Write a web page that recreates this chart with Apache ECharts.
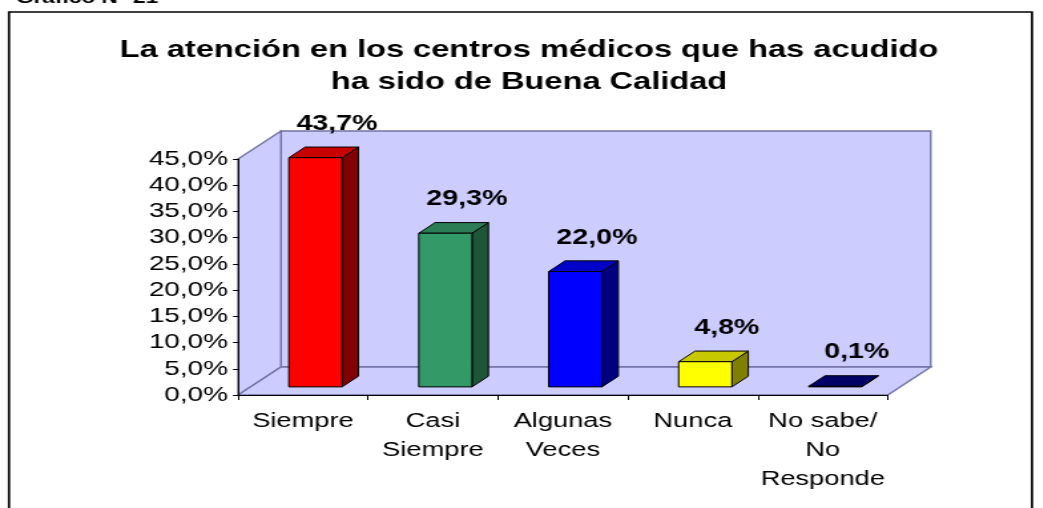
<!DOCTYPE html>
<html>
<head>
<meta charset="utf-8">
<script src="https://cdn.jsdelivr.net/npm/echarts@6/dist/echarts.min.js"></script>
<style>
  html, body { margin: 0; padding: 0; background: #fff; overflow: hidden; }
  #chart { height: 508px; transform-origin: 0 0; }
</style>
</head>
<body>
<div id="chart"></div>
<script>
// chart data
const categories = ["Siempre", "Casi\nSiempre", "Algunas\nVeces", "Nunca", "No sabe/\nNo\nResponde"];
const values = [43.7, 29.3, 22.0, 4.8, 0.1];
const yMin = 0;
const yMax = 45;
const yStep = 5;

// the original picture is stretched sideways, so draw narrow and stretch
const S = 1.33;
const FONT = '"Liberation Sans", Arial, sans-serif';

const frontColors = ["#ff0000", "#339966", "#0000ff", "#ffff00", "#000080"];
const topColors = ["#c80000", "#2a7d54", "#0000c8", "#c8c800", "#000066"];
const sideColors = ["#800000", "#1d5639", "#000080", "#808000", "#000040"];

// depth of the fake 3d box
const DX = 43 / S;
const DY = -28;
const F1 = 0.29;
const F2 = 0.67;
const BAR_W = 0.41;

function fmt(v) {
  return v.toFixed(1).replace(".", ",") + "%";
}

var chartDom = document.getElementById("chart");
chartDom.style.width = 1043 / S + "px";
chartDom.style.transform = "scaleX(" + S + ")";
var myChart = echarts.init(chartDom, null, { renderer: "canvas" });

function renderWalls(params, api) {
  var cs = params.coordSys;
  var xl = cs.x, xr = cs.x + cs.width, yt = cs.y, yb = cs.y + cs.height;
  var st = { fill: "#ccccff", stroke: "#7272a8", lineWidth: 1.4 };
  return {
    type: "group",
    children: [
      { type: "polygon", shape: { points: [[xl + DX, yt + DY], [xr + DX, yt + DY], [xr + DX, yb + DY], [xl + DX, yb + DY]] }, style: st },
      { type: "polygon", shape: { points: [[xl, yt], [xl + DX, yt + DY], [xl + DX, yb + DY], [xl, yb]] }, style: st },
      { type: "polygon", shape: { points: [[xl, yb], [xr, yb], [xr + DX, yb + DY], [xl + DX, yb + DY]] }, style: st },
    ],
  };
}

function renderBar(params, api) {
  var i = api.value(0);
  var v = api.value(1);
  var base = api.coord([i, 0]);
  var top = api.coord([i, v]);
  var bw = api.size([1, 0])[0] * BAR_W;
  var ox = F1 * DX, oy = F1 * DY;
  var dx = (F2 - F1) * DX, dy = (F2 - F1) * DY;
  var x0 = base[0] - bw / 2 + ox;
  var x1 = x0 + bw;
  var yb = base[1] + oy;
  var yt = top[1] + oy;
  var line = { stroke: "#000", lineWidth: 1 };
  return {
    type: "group",
    children: [
      { type: "polygon", shape: { points: [[x1, yt], [x1 + dx, yt + dy], [x1 + dx, yb + dy], [x1, yb]] }, style: Object.assign({ fill: sideColors[i] }, line) },
      { type: "polygon", shape: { points: [[x0, yt], [x1, yt], [x1 + dx, yt + dy], [x0 + dx, yt + dy]] }, style: Object.assign({ fill: topColors[i] }, line) },
      { type: "rect", shape: { x: x0, y: yt, width: bw, height: yb - yt }, style: Object.assign({ fill: frontColors[i] }, line) },
      {
        type: "text",
        x: base[0] + 34 / S,
        y: top[1] - 42,
        style: {
          text: fmt(v),
          fill: "#000",
          font: "bold 21.5px " + FONT,
          align: "center",
          verticalAlign: "middle",
        },
      },
    ],
  };
}

var option = {
  animation: false,
  backgroundColor: "#fff",
  grid: {
    left: 238 / S,
    right: 1043 / S - 888 / S,
    top: 159,
    bottom: 508 - 395,
  },
  graphic: [
    {
      type: "rect",
      shape: { x: 9 / S, y: 12, width: 1023 / S, height: 600 },
      style: { fill: "none", stroke: "#000", lineWidth: 1.7 },
    },
    {
      type: "text",
      x: 16 / S,
      y: -2,
      style: { text: "Gráfico N° 21", fill: "#000", font: "bold 17px " + FONT, align: "left", verticalAlign: "middle" },
    },
    {
      type: "text",
      x: 529 / S,
      y: 34,
      style: {
        text: "La atención en los centros médicos que has acudido\nha sido de Buena Calidad",
        fill: "#000",
        font: "bold 24.5px " + FONT,
        lineHeight: 32,
        align: "center",
        verticalAlign: "top",
      },
    },
  ],
  xAxis: {
    type: "category",
    data: categories,
    z: 5,
    axisLine: { lineStyle: { color: "#000", width: 1 } },
    axisTick: { show: true, length: 5, lineStyle: { color: "#000" } },
    axisLabel: {
      color: "#000",
      fontFamily: FONT,
      fontSize: 20.5,
      lineHeight: 29,
      margin: 12,
      interval: 0,
    },
  },
  yAxis: {
    type: "value",
    min: yMin,
    max: yMax,
    interval: yStep,
    z: 5,
    splitLine: { show: false },
    axisLine: { show: true, lineStyle: { color: "#000", width: 1 } },
    axisTick: { show: true, length: 5 / S, lineStyle: { color: "#000" } },
    axisLabel: {
      color: "#000",
      fontFamily: FONT,
      fontSize: 21,
      margin: 10 / S,
      formatter: fmt,
    },
  },
  series: [
    {
      type: "custom",
      z: 1,
      renderItem: renderWalls,
      data: [[0, 0]],
      silent: true,
    },
    {
      type: "custom",
      z: 2,
      renderItem: renderBar,
      encode: { x: 0, y: 1 },
      data: values.map(function (v, i) {
        return [i, v];
      }),
    },
  ],
};
option && myChart.setOption(option);
</script>
</body>
</html>
